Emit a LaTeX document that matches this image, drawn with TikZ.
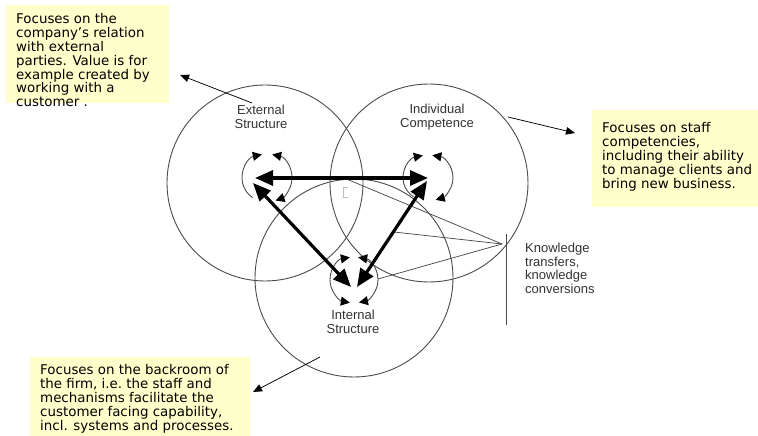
\documentclass[tikz,border=0pt]{standalone}
\usepackage{fontspec}
\setmainfont{DejaVu Sans}
\newfontfamily\labelfont{Liberation Sans}
\usetikzlibrary{arrows.meta,calc}
\definecolor{notefill}{RGB}{255,255,204}
\definecolor{ringgray}{RGB}{75,75,75}
\definecolor{labgray}{RGB}{50,50,50}
\definecolor{markgray}{RGB}{190,190,190}
\tikzset{
  looptip/.tip={Triangle[length=9pt,width=9pt,color=black,fill=black]},
  bigtip/.tip={Triangle[length=18pt,width=15pt]}
}

\begin{document}
\begin{tikzpicture}[x=1pt,y=1pt,
  ring/.style={circle, draw=ringgray, line width=0.9pt, inner sep=0pt},
  loopline/.style={draw=ringgray, line width=0.9pt},
  bigarrow/.style={line width=3.2pt, {bigtip}-{bigtip}},
  linkline/.style={draw=ringgray, line width=0.75pt},
  pointer/.style={line width=0.75pt, -{Triangle[length=9pt,width=7.5pt]}},
  notebox/.style={rectangle, fill=notefill, inner sep=0pt, anchor=north west},
  notetext/.style={font=\fontsize{13.4}{13.8}\selectfont, align=left,
    anchor=north west, inner sep=0pt},
  ringlabel/.style={font=\labelfont\fontsize{13}{13.5}\selectfont,
    text=labgray, align=center, inner sep=0pt}
]
\useasboundingbox (0,0) rectangle (758,436);

% yellow note boxes
\node[notebox, minimum width=163pt, minimum height=98pt] (box1) at (6,431) {};
\node[notebox, minimum width=166pt, minimum height=97pt] (box2) at (592,326) {};
\node[notebox, minimum width=220pt, minimum height=79pt] (box3) at (30,79) {};

% the three knowledge areas
\node[ring, minimum size=196pt] (ext) at (265,253) {};
\node[ring, minimum size=198pt] (ind) at (429,253) {};
\node[ring, minimum size=198pt] (int) at (354,158) {};

% loop centres, arrow ends and the knowledge-transfer hub
\coordinate (extLoop) at (267,258);
\coordinate (indLoop) at (428,258);
\coordinate (intLoop) at (354,156);
\coordinate (extTipH) at (255,258);
\coordinate (indTipH) at (428,258);
\coordinate (extTipD) at (253,253);
\coordinate (indTipD) at (427,255);
\coordinate (intTipL) at (351,149);
\coordinate (intTipR) at (357,149);
\coordinate (hub) at (502,192);
\coordinate (onH) at (344,258);
\coordinate (onD) at (394,204);
\coordinate (onLoop) at (378,157);
\coordinate (barTop) at (506,202);
\coordinate (barBot) at (506,111);

% lines gathering the transfers
\draw[linkline] (hub) -- (onH);
\draw[linkline] (hub) -- (onD);
\draw[linkline] (hub) -- (onLoop);
\draw[linkline] (barTop) -- (barBot);

% small bracket mark
\draw[markgray, line width=1pt] (348,248) -- (343,248) -- (343,238) -- (348,238);

% loops inside each area
\draw[loopline, {looptip}-]
  ($(extLoop)+(102:25 and 24)$) arc[start angle=102, end angle=235, x radius=25, y radius=24];
\draw[loopline, {looptip}-{looptip}]
  ($(extLoop)+(78:25 and 24)$) arc[start angle=78, end angle=-70, x radius=25, y radius=24];

\draw[loopline, {looptip}-]
  ($(indLoop)+(102:25 and 23)$) arc[start angle=102, end angle=235, x radius=25, y radius=23];
\draw[loopline, {looptip}-{looptip}]
  ($(indLoop)+(80:25 and 23)$) arc[start angle=80, end angle=-72, x radius=25, y radius=23];

\draw[loopline, {looptip}-{looptip}]
  ($(intLoop)+(100:24 and 23)$) arc[start angle=100, end angle=260, x radius=24, y radius=23];
\draw[loopline, {looptip}-{looptip}]
  ($(intLoop)+(80:24 and 23)$) arc[start angle=80, end angle=-78, x radius=24, y radius=23];

% transfers between the areas
\draw[bigarrow] (extTipH) -- (indTipH);
\draw[bigarrow] (extTipD) -- (intTipL);
\draw[bigarrow] (indTipD) -- (intTipR);

% area names
\node[ringlabel] (extName) at (261,319) {External\\Structure};
\node[ringlabel] (indName) at (437,319) {Individual\\Competence};
\node[ringlabel] (intName) at (353,114) {Internal\\Structure};
\node[ringlabel, align=left, anchor=north west] (knName) at (525,193)
  {Knowledge\\transfers,\\knowledge\\conversions};

% note texts
\node[notetext] (note1) at (16,422.5) {Focuses on the\\company’s relation\\with external\\parties. Value is for\\example created by\\working with a\\customer .};
\node[notetext] (note2) at (602,313.5) {Focuses on staff\\competencies,\\including their ability\\to manage clients and\\bring new business.};
\node[notetext] (note3) at (40,71.5) {Focuses on the backroom of\\the firm, i.e.\ the staff and\\mechanisms facilitate the\\customer facing capability,\\incl. systems and processes.};

% pointers from the areas to the notes
\coordinate (p1tail) at (252,333);
\coordinate (p1tip) at (180,361);
\coordinate (p2tail) at (508,319);
\coordinate (p2tip) at (575,303);
\coordinate (p3tail) at (320,79);
\coordinate (p3tip) at (253,44);
\draw[pointer] (p1tail) -- (p1tip);
\draw[pointer] (p2tail) -- (p2tip);
\draw[pointer] (p3tail) -- (p3tip);
\end{tikzpicture}
\end{document}
